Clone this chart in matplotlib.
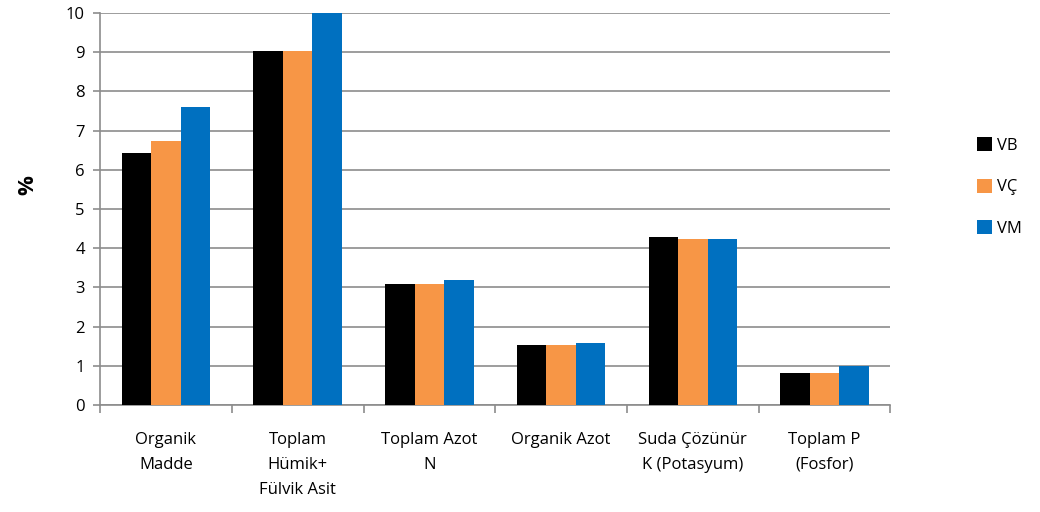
import numpy as np
import matplotlib
matplotlib.use('Agg')
import matplotlib.pyplot as plt

# data
categories = ['Organik\nMadde', 'Toplam\nHümik+\nFülvik Asit', 'Toplam Azot\nN',
              'Organik Azot', 'Suda Çözünür\nK (Potasyum)', 'Toplam P\n(Fosfor)']
series     = ['VB', 'VÇ', 'VM']
vb         = [6.43, 9.02, 3.09, 1.53, 4.29, 0.82]
vc         = [6.74, 9.02, 3.08, 1.53, 4.24, 0.82]
vm         = [7.60, 10.0, 3.18, 1.58, 4.24, 1.00]
colors     = ['#000000', '#F79646', '#0070C0']

plt.rcParams['font.family'] = ['Open Sans', 'DejaVu Sans']

fig = plt.figure(figsize=(10.4, 5.12), dpi=100)
ax = fig.add_axes([0.0962, 0.209, 0.76, 0.7656])

x = np.arange(len(categories))
width = 0.224
for i, (vals, name) in enumerate(zip([vb, vc, vm], series)):
    ax.bar(x + (i - 1) * width, vals, width, color=colors[i], label=name, zorder=3)

ax.set_xlim(-0.5, len(categories) - 0.5)
ax.set_ylim(0, 10)
ax.set_yticks(range(0, 11))
ax.yaxis.grid(True, color='#8c8c8c', linewidth=1.2, zorder=0)

# category boundary ticks on x axis
ax.set_xticks(np.arange(-0.5, len(categories) + 0.5, 1))
ax.set_xticklabels([])
ax.tick_params(axis='x', length=6, color='#8c8c8c', width=1.2)
ax.tick_params(axis='y', length=5, color='#8c8c8c', width=1.2, labelsize=12, pad=6)
for i, lab in enumerate(categories):
    ax.text(x[i], -0.68, lab, ha='center', va='top', fontsize=12,
            linespacing=1.75, transform=ax.transData)

for s in ['top', 'right']:
    ax.spines[s].set_visible(False)
for s in ['left', 'bottom']:
    ax.spines[s].set_color('#8c8c8c')
    ax.spines[s].set_linewidth(1.2)

ax.set_ylabel('%', fontsize=16, fontweight='bold')
ax.yaxis.set_label_coords(-0.078, 0.56)

leg = ax.legend(loc='center left', bbox_to_anchor=(1.09, 0.556), frameon=False,
                fontsize=12, handlelength=0.9, handleheight=0.9,
                labelspacing=1.5, handletextpad=0.3)

plt.savefig('out.png', dpi=100)
